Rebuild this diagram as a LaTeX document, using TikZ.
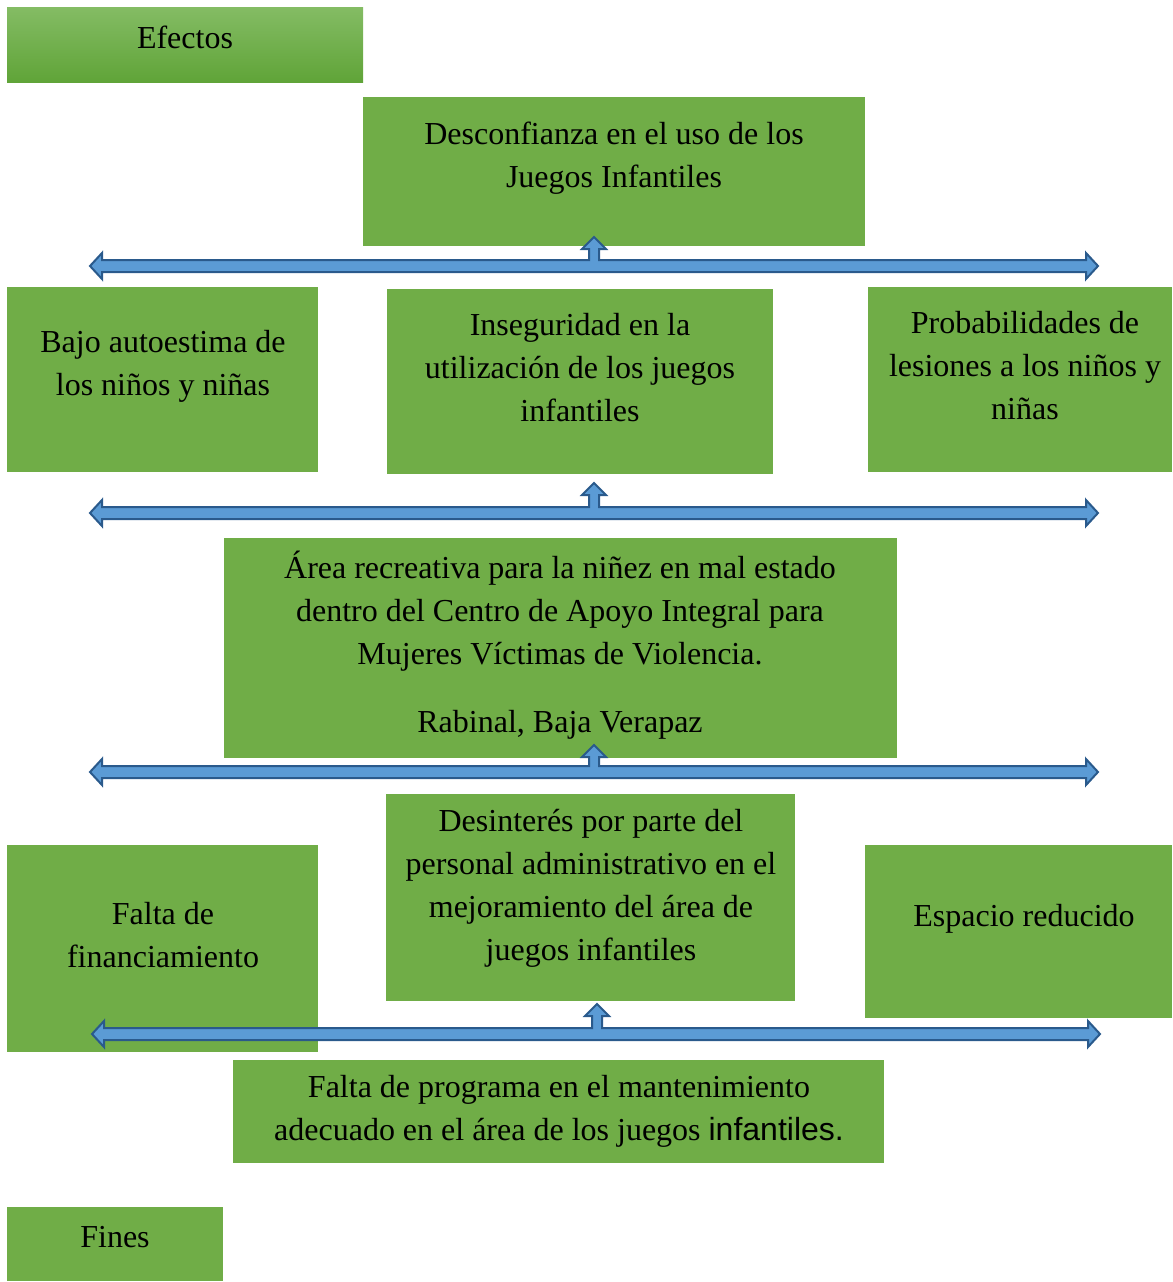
\documentclass[tikz,border=0pt]{standalone}
\usepackage{fontspec}
\setmainfont{Liberation Serif}
\newfontfamily\arialfont{Liberation Sans}
\usetikzlibrary{positioning}

\definecolor{verde}{HTML}{70AD47}
\definecolor{verdeclaro}{HTML}{84BC64}
\definecolor{verdeoscuro}{HTML}{60A438}
\definecolor{azulfill}{HTML}{5B9BD5}
\definecolor{azulborde}{HTML}{2A5A8C}

\tikzset{
  caja/.style={fill=verde, draw=none, inner sep=0pt},
  texto/.style={align=center, inner sep=0pt, font=\fontsize{24}{32.25}\selectfont},
  flecha/.style={fill=azulfill, draw=azulborde, line width=1.5pt, line join=miter},
}

% flecha de tres puntas: #1 = y, #2 = x izq., #3 = x der., #4 = x centro, #5 = y punta
\newcommand{\flechatres}[5]{%
  \draw[flecha] (#2,#1) -- (#2+12,#1-13) -- (#2+12,#1-6) -- (#4-5,#1-6)
    -- (#4-5,#5+12) -- (#4-12,#5+12) -- (#4,#5) -- (#4+12,#5+12) -- (#4+5,#5+12)
    -- (#4+5,#1-6) -- (#3-12,#1-6) -- (#3-12,#1-13) -- (#3,#1) -- (#3-12,#1+13)
    -- (#3-12,#1+6) -- (#2+12,#1+6) -- (#2+12,#1+13) -- cycle ;}

\begin{document}
\begin{tikzpicture}[x=0.75pt,y=-0.75pt]

\useasboundingbox (0,0) rectangle (1172,1282) ;

% cajas de efectos

\node[caja, top color=verdeclaro, bottom color=verdeoscuro, minimum width=356*0.75pt, minimum height=75*0.75pt] (efectos) at (185,44.5) {} ;
\node[texto] (t_efectos) at (185,37) {Efectos} ;

\node[caja, minimum width=502*0.75pt, minimum height=149*0.75pt] (desconf) at (614,171.5) {} ;
\node[texto] (t_desconf) at (614,158) {Desconfianza en el uso de los\\Juegos Infantiles} ;

\node[caja, minimum width=311*0.75pt, minimum height=185*0.75pt] (bajo) at (162.5,379.5) {} ;
\node[texto] (t_bajo) at (163,366) {Bajo autoestima de\\los niños y niñas} ;

\node[caja, minimum width=386*0.75pt, minimum height=185*0.75pt] (inseg) at (580,381.5) {} ;
\node[texto] (t_inseg) at (580,368) {Inseguridad en la\\utilización de los juegos\\infantiles} ;

\node[caja, minimum width=304*0.75pt, minimum height=185*0.75pt] (probab) at (1020,379.5) {} ;
\node[texto] (t_probab) at (1025,366) {Probabilidades de\\lesiones a los niños y\\niñas} ;

% problema central

\node[caja, minimum width=673*0.75pt, minimum height=220*0.75pt] (area) at (560.5,648) {} ;
\node[texto] (t_area) at (560,645) {Área recreativa para la niñez en mal estado\\dentro del Centro de Apoyo Integral para\\Mujeres Víctimas de Violencia.\\[19pt]Rabinal, Baja Verapaz} ;

% causas

\node[caja, minimum width=311*0.75pt, minimum height=207*0.75pt] (faltafin) at (162.5,948.5) {} ;
\node[texto] (t_faltafin) at (163,935) {Falta de\\financiamiento} ;

\node[caja, minimum width=409*0.75pt, minimum height=207*0.75pt] (desint) at (590.5,897.5) {} ;
\node[texto] (t_desint) at (591,888) {Desinterés por parte del\\personal administrativo en el\\mejoramiento del área de\\juegos infantiles} ;

\node[caja, minimum width=307*0.75pt, minimum height=173*0.75pt] (espacio) at (1018.5,931.5) {} ;
\node[texto] (t_espacio) at (1024,919) {Espacio reducido} ;

\node[caja, minimum width=651*0.75pt, minimum height=103*0.75pt] (faltaprog) at (558.5,1111.5) {} ;
\node[texto] (t_faltaprog) at (559,1111) {Falta de programa en el mantenimiento\\adecuado en el área de los juegos {\arialfont infantiles.}} ;

\node[caja, minimum width=216*0.75pt, minimum height=74*0.75pt] (fines) at (115,1244) {} ;
\node[texto] (t_fines) at (115,1237) {Fines} ;

% flechas

\flechatres{266}{90}{1098}{594}{237}
\flechatres{513}{90}{1098}{594}{483}
\flechatres{772}{90}{1098}{594}{745}
\flechatres{1034}{92}{1100}{597}{1004}

\end{tikzpicture}
\end{document}
